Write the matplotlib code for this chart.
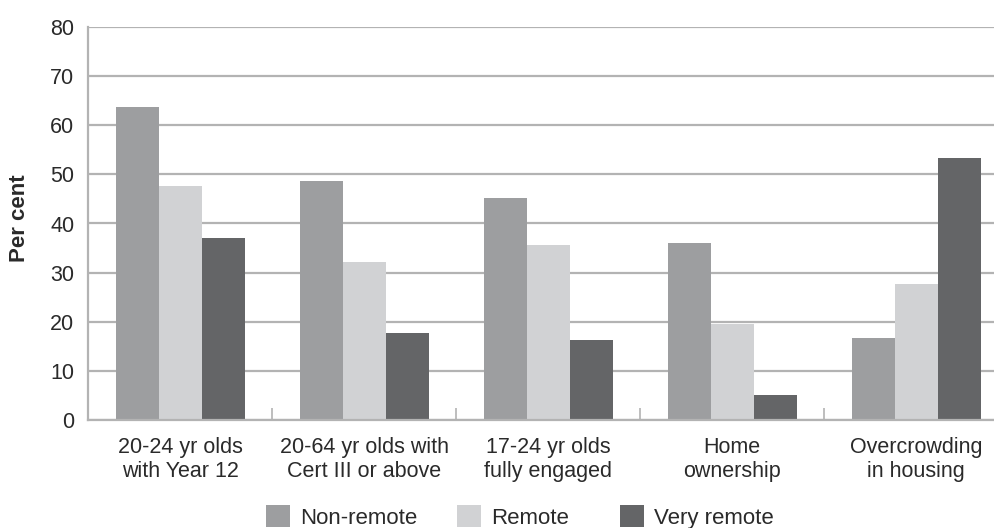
import matplotlib.pyplot as plt
from matplotlib.patches import Patch
import numpy as np

# Indicator values (per cent) by remoteness
categories = ['20-24 yr olds\nwith Year 12',
              '20-64 yr olds with\nCert III or above',
              '17-24 yr olds\nfully engaged',
              'Home\nownership',
              'Overcrowding\nin housing']
non_remote = [63.7, 48.6, 45.2, 36.0, 16.7]
remote = [47.6, 32.2, 35.6, 19.5, 27.7]
very_remote = [37.0, 17.7, 16.3, 5.1, 53.3]

series_names = ['Non-remote', 'Remote', 'Very remote']
colors = ['#9d9ea0', '#d1d2d4', '#646567']
text_col = '#2a2a2a'
grid_col = '#b3b3b3'
fs = 15.5

plt.rcParams['font.family'] = ['Liberation Sans', 'DejaVu Sans']

fig = plt.figure(figsize=(9.95, 5.28), dpi=100)
# axes runs a little past the right edge of the figure
ax = fig.add_axes([88.3 / 995, 108 / 528, 920 / 995, 393 / 528])

x = np.arange(len(categories))
w = 0.234
for i, (vals, col) in enumerate(zip([non_remote, remote, very_remote], colors)):
    ax.bar(x + (i - 1) * w, vals, w, color=col, zorder=3, linewidth=0)

ax.set_xlim(-0.5, len(categories) - 0.5)
ax.set_ylim(0, 80)
ax.set_yticks(range(0, 81, 10))
ax.yaxis.grid(True, color=grid_col, linewidth=1.6, zorder=0)
ax.set_axisbelow(True)

for s in ['top', 'right']:
    ax.spines[s].set_visible(False)
for s in ['left', 'bottom']:
    ax.spines[s].set_color(grid_col)
    ax.spines[s].set_linewidth(1.6)
    ax.spines[s].set_zorder(4)

ax.set_xticks(x)
ax.set_xticklabels(categories, fontsize=fs, color=text_col, linespacing=1.2)
ax.tick_params(axis='x', which='major', length=0, pad=12)
ax.set_xticks(np.arange(-0.5, len(categories), 1), minor=True)
ax.tick_params(axis='x', which='minor', direction='in', length=9,
               width=1.2, color=grid_col)
ax.tick_params(axis='y', length=0, pad=10, labelsize=fs, labelcolor=text_col)

fig.text(20 / 995, 1 - 218 / 528, 'Per cent', rotation=90, ha='center',
         va='center', fontsize=16, fontweight='bold', color=text_col)

# legend entries placed one by one along the bottom
leg_x = [266, 457, 620]
for name, col, lx in zip(series_names, colors, leg_x):
    leg = fig.legend(handles=[Patch(facecolor=col, edgecolor='none')],
                     labels=[name], loc='center left',
                     bbox_to_anchor=(lx / 995, 1 - 517 / 528),
                     frameon=False, fontsize=16, borderpad=0,
                     borderaxespad=0, handlelength=1.1, handleheight=1.1,
                     handletextpad=0.45)
    for t in leg.get_texts():
        t.set_color(text_col)

fig.savefig('out.png', dpi=100)
